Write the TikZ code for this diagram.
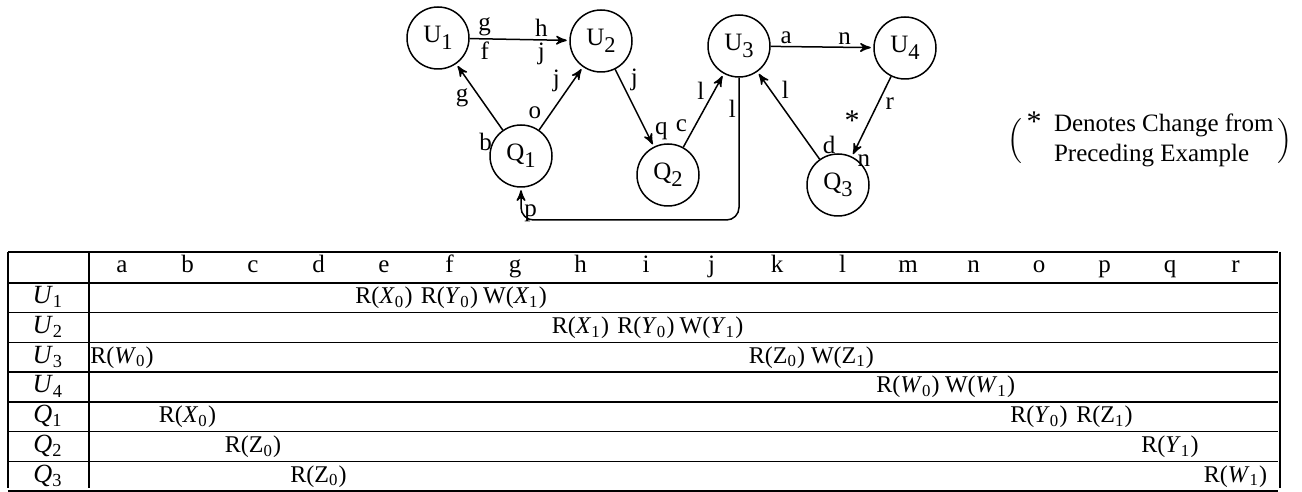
\documentclass[tikz,border=0pt]{standalone}
\usepackage{fontspec}
\setmainfont{Liberation Serif}
\usetikzlibrary{arrows,automata}

\newcommand{\opv}[3]{#1(\textit{#2}\textsubscript{#3})}
\newcommand{\opz}[2]{#1(Z\textsubscript{#2})}
\newcommand{\nd}[2]{#1\raisebox{-0.6ex}{\small #2}}

\begin{document}
\begin{tikzpicture}[x=0.4pt,y=-0.4pt,>=stealth',shorten >=1pt,auto,
  every state/.style={draw,minimum size=24.8pt,inner sep=0pt,semithick},
  lbl/.style={inner sep=1pt}]
  \useasboundingbox (0,0) rectangle (1302,492);

  \node[state] (U1) at (438,38)  {\nd{U}{1}};
  \node[state] (U2) at (601,41)  {\nd{U}{2}};
  \node[state] (U3) at (739,46)  {\nd{U}{3}};
  \node[state] (U4) at (905,48)  {\nd{U}{4}};
  \node[state] (Q1) at (521,156) {\nd{Q}{1}};
  \node[state] (Q2) at (668,175) {\nd{Q}{2}};
  \node[state] (Q3) at (838,185) {\nd{Q}{3}};

  \path[->,semithick,every node/.style={lbl}]
        (U1) edge node[pos=.15] {g} node[pos=.72] {h}
                  node[pos=.15,swap] {f} node[pos=.72,swap] {j} (U2)
        (Q1) edge node[pos=0,xshift=-3pt] {b} node[pos=.67] {g} (U1)
        (Q1) edge node[pos=.12] {o} node[pos=.55] {j} (U2)
        (U2) edge node[pos=.32] {j} node[pos=.95] {q} (Q2)
        (Q2) edge node[pos=.17] {c} node[pos=.6] {l} (U3)
        (U3) edge node[pos=.15] {a} node[pos=.72] {n} (U4)
        (Q3) edge node[pos=0,swap,yshift=1pt] {d} node[pos=.66,swap] {l} (U3)
        (U4) edge node[pos=.22] {r} node[pos=.72,swap] {\large *} node[pos=.94] {n} (Q3);

  \coordinate (low) at (0,220);
  \draw[->,semithick,rounded corners=5pt] (U3.south) -- node[lbl,pos=.22,swap] {l} (U3.south |- low)
        -- (Q1.south |- low) -- node[lbl,pos=.2,swap] {p} (Q1.south);

  \node (note) at (1150,141)
    {$\Big(\,\begin{tabular}{@{}l@{\ \ }l@{}}\large *&Denotes Change from\\ &Preceding Example\end{tabular}\,\Big)$};

  \foreach \yy in {252,283,312.75,342.5,372.25,402,431.75,461.5,491}
    \draw[line width=0.6pt] (8,\yy) -- (1280,\yy);
  \foreach \xx in {8,89,1280}
    \draw[line width=0.6pt] (\xx,252) -- (\xx,491);

  \foreach \c [count=\i from 0] in {a,b,c,d,e,f,g,h,i,j,k,l,m,n,o,p,q,r}
    \node[anchor=base] (h\c) at (122+65.5*\i,273) {\c};
  \foreach \n/\s [count=\i] in {U/1,U/2,U/3,U/4,Q/1,Q/2,Q/3}
    \node[anchor=base,font=\fontsize{10.5}{12}\selectfont] (row\i) at (48,274+29.75*\i) {\textit{\n}\textsubscript{\s}};
  \foreach \i/\c/\t in {1/4/{\opv{R}{X}{0}},1/5/{\opv{R}{Y}{0}},1/6/{\opv{W}{X}{1}},
      2/7/{\opv{R}{X}{1}},2/8/{\opv{R}{Y}{0}},2/9/{\opv{W}{Y}{1}},
      3/0/{\opv{R}{W}{0}},3/10/{\opz{R}{0}},3/11/{\opz{W}{1}},
      4/12/{\opv{R}{W}{0}},4/13.1/{\opv{W}{W}{1}},
      5/1/{\opv{R}{X}{0}},5/14/{\opv{R}{Y}{0}},5/15/{\opz{R}{1}},
      6/2/{\opz{R}{0}},6/16/{\opv{R}{Y}{1}},
      7/3/{\opz{R}{0}},7/17/{\opv{R}{W}{1}}}
    \node[anchor=base,font=\fontsize{9.6}{11}\selectfont] (op\i-\c) at (122+65.5*\c,274+29.75*\i) {\t};
\end{tikzpicture}
\end{document}
